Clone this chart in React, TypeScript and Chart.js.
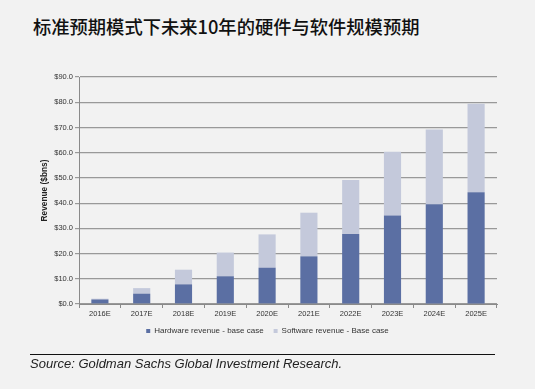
import React, { useEffect, useRef } from "react";
import { Chart, registerables } from "chart.js";

Chart.register(...registerables);

const categories = ["2016E", "2017E", "2018E", "2019E", "2020E", "2021E", "2022E", "2023E", "2024E", "2025E"];
const hardwareRevenue = [1.8, 4.1, 7.8, 11.0, 14.4, 18.9, 27.8, 35.1, 39.5, 44.3];
const softwareRevenue = [0.3, 2.2, 5.8, 9.4, 13.2, 17.3, 21.4, 25.3, 29.7, 35.1];
const yTickValues = [0, 10, 20, 30, 40, 50, 60, 70, 80, 90];

const FONT = "'Liberation Sans', Arial, sans-serif";

export default function App() {
  const canvasRef = useRef<HTMLCanvasElement | null>(null);

  useEffect(() => {
    if (!canvasRef.current) return;
    const chart = new Chart(canvasRef.current, {
      type: "bar",
      data: {
        labels: categories,
        datasets: [
          {
            label: "Hardware revenue - base case",
            data: hardwareRevenue,
            backgroundColor: "#5b6fa3",
            barPercentage: 0.41,
            categoryPercentage: 1,
          },
          {
            label: "Software revenue - Base case",
            data: softwareRevenue,
            backgroundColor: "#c4c9db",
            barPercentage: 0.41,
            categoryPercentage: 1,
          },
        ],
      },
      options: {
        animation: false,
        responsive: false,
        maintainAspectRatio: false,
        layout: { padding: { top: 77, right: 0, bottom: 44, left: 0 } },
        plugins: {
          tooltip: { enabled: false },
          legend: {
            position: "bottom",
            labels: {
              boxWidth: 4,
              boxHeight: 4,
              padding: 10,
              color: "#333",
              font: { family: FONT, size: 8 },
            },
          },
        },
        scales: {
          x: {
            stacked: true,
            afterFit: (s: any) => {
              s.height = 13;
            },
            grid: {
              drawOnChartArea: false,
              drawTicks: true,
              tickLength: 4,
              color: "#8a8a8a",
              offset: true,
            },
            border: { color: "#8a8a8a", width: 1 },
            ticks: { color: "#333", font: { family: FONT, size: 7.5 }, padding: 1, maxRotation: 0 },
          },
          y: {
            stacked: true,
            min: 0,
            max: 90,
            afterFit: (s: any) => {
              s.width = 79;
            },
            afterBuildTicks: (s: any) => {
              s.ticks = yTickValues.map((v) => ({ value: v }));
            },
            grid: { color: "#999", lineWidth: 1.2, tickLength: 4 },
            border: { color: "#8a8a8a", width: 1 },
            ticks: {
              color: "#333",
              font: { family: FONT, size: 7.5 },
              padding: 2,
              callback: (v: any) => "$" + Number(v).toFixed(1),
            },
            title: {
              display: true,
              text: "Revenue ($bns)",
              color: "#222",
              font: { family: FONT, size: 8.3, weight: "bold" },
              padding: { top: 40, bottom: 0 },
            },
          },
          spacer: {
            type: "linear",
            position: "right",
            display: true,
            afterFit: (s: any) => {
              s.width = 38;
            },
            grid: { display: false, drawOnChartArea: false },
            border: { display: false },
            ticks: { display: false },
          },
        },
      },
    });
    return () => chart.destroy();
  }, []);

  return (
    <div
      style={{
        position: "fixed",
        left: 0,
        top: 0,
        width: 535,
        height: 389,
        background: "#f2f2f2",
        overflow: "hidden",
      }}
    >
      <div
        style={{
          position: "absolute",
          left: 33,
          top: 16,
          fontFamily: "'Noto Sans CJK SC', sans-serif",
          fontSize: 18.3,
          lineHeight: "20px",
          fontWeight: 500,
          color: "#111",
          whiteSpace: "nowrap",
        }}
      >
        标准预期模式下未来10年的硬件与软件规模预期
      </div>
      <canvas ref={canvasRef} width={535} height={389} style={{ position: "absolute", left: 0, top: 0 }} />
      <div
        style={{
          position: "absolute",
          left: 30,
          top: 354,
          width: 465,
          height: 0,
          borderTop: "1px solid #111",
        }}
      />
      <div
        style={{
          position: "absolute",
          left: 30,
          top: 356,
          fontFamily: FONT,
          fontStyle: "italic",
          fontSize: 13,
          lineHeight: "16px",
          color: "#222",
          whiteSpace: "nowrap",
        }}
      >
        Source: Goldman Sachs Global Investment Research.
      </div>
    </div>
  );
}
